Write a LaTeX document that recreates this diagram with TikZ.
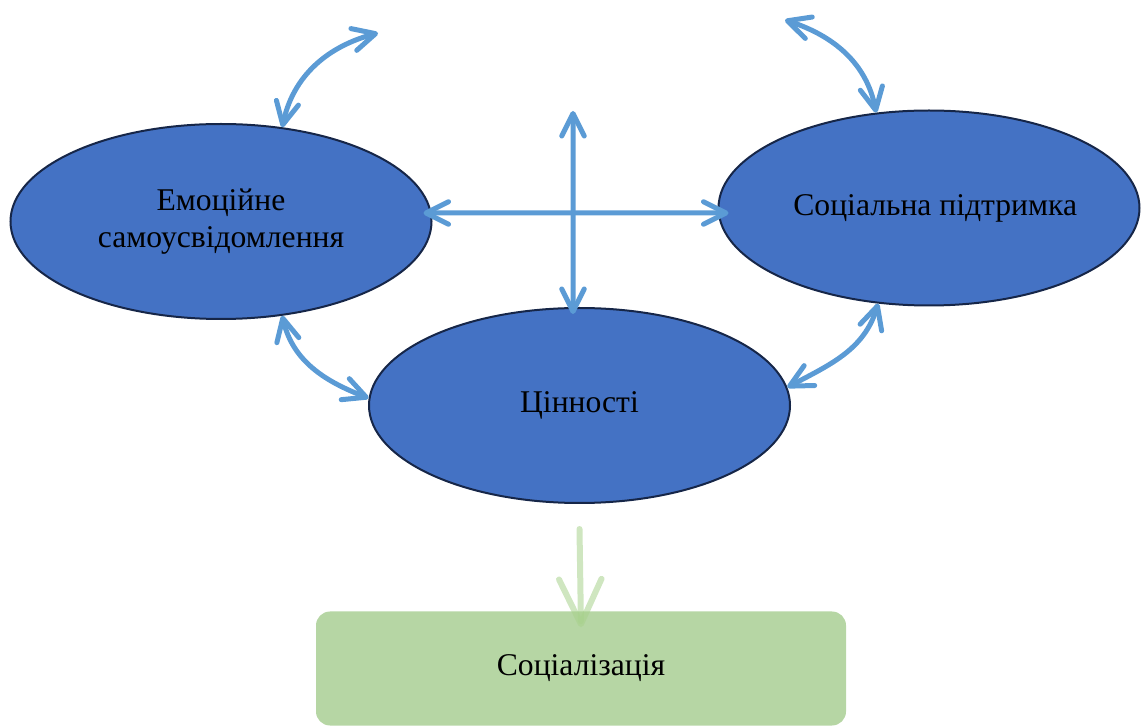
\documentclass[tikz,border=0pt]{standalone}
\usepackage{fontspec}
\setmainfont{Liberation Serif}
\usetikzlibrary{arrows.meta,shapes.geometric}
\definecolor{ovalblue}{RGB}{68,114,196}
\definecolor{ovalline}{RGB}{22,38,72}
\definecolor{arrowblue}{RGB}{91,155,213}
\definecolor{boxgreen}{RGB}{182,214,164}
\definecolor{arrowgreen}{RGB}{168,210,140}

\begin{document}
\begin{tikzpicture}[
    oval/.style={ellipse, draw=ovalline, line width=.4mm, fill=ovalblue, minimum width=8.42cm, minimum height=3.9cm, inner sep=0pt, align=center, font=\fontsize{18}{20.7}\selectfont},
    gbox/.style={rectangle, rounded corners=.28cm, fill=boxgreen, minimum width=10.6cm, minimum height=2.28cm, font=\fontsize{18}{20.7}\selectfont},
    link/.style={draw=arrowblue, line width=1mm, line cap=round, {Straight Barb[length=4.5mm,width=4.5mm,round]}-{Straight Barb[length=4.5mm,width=4.5mm,round]}},
    garrow/.style={draw=arrowgreen, opacity=.55, line width=1.2mm, line cap=round, -{Straight Barb[length=9mm,width=8.5mm,round]}}
  ]
    \useasboundingbox (0,0) rectangle (22.82,14.54);
    \node[oval] (emo) at (4.42,10.11) {Емоційне\\самоусвідомлення};
    \node[oval] (soc) at (18.58,10.38) {\hspace*{2.5mm}Соціальна підтримка};
    \node[oval] (val) at (11.59,6.43) {Цінності};
    \node[gbox] (soz) at (11.62,1.17) {Соціалізація};
    \coordinate (tl) at (7.56,13.88);
    \coordinate (tr) at (15.7,14.14);
    \coordinate (top) at (11.46,12.32);
    \draw[link] (emo.57) to[out=78,in=195] (tl);
    \draw[link] (tr) to[out=-18,in=101] (soc.119);
    \draw[link] (emo.303) to[out=-77,in=159] (val.178);
    \draw[link] (soc.242) to[out=-107,in=28] (val.5);
    \draw[link] ([xshift=-1.8mm,yshift=1.7mm]emo.east) -- ([xshift=2.2mm,yshift=-1mm]soc.west);
    \draw[link] (top) -- ([xshift=-1.3mm,yshift=-1.4mm]val.north);
    \draw[garrow] ([yshift=-5mm]val.south) -- ([yshift=-3.2mm]soz.north);
\end{tikzpicture}
\end{document}
